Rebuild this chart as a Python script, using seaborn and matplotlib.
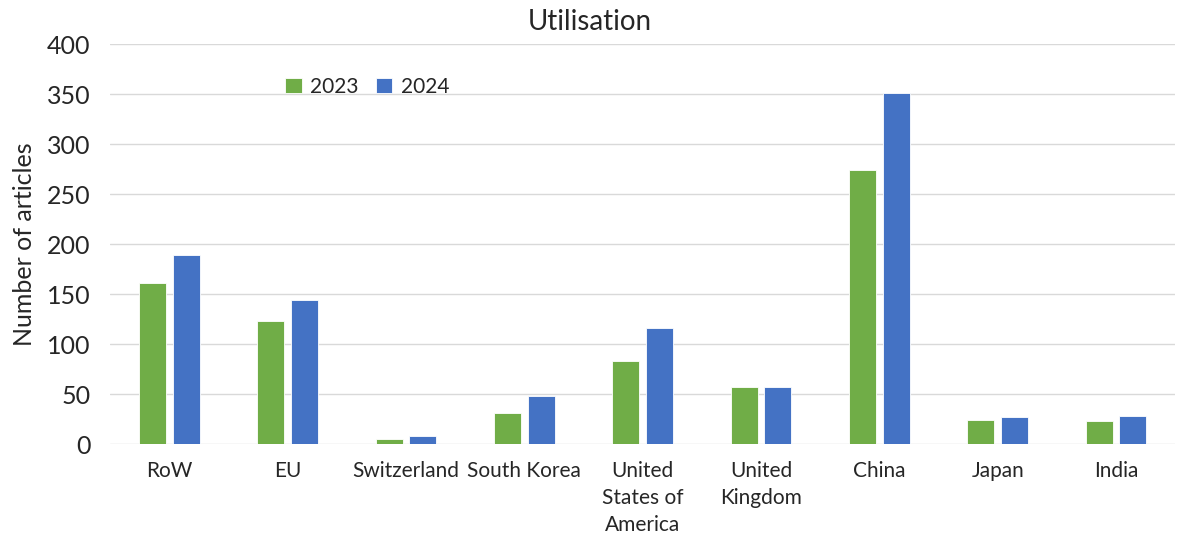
import numpy as np
import pandas as pd
import matplotlib.pyplot as plt
import seaborn as sns

countries = ['RoW', 'EU', 'Switzerland', 'South Korea', 'United\nStates of\nAmerica',
             'United\nKingdom', 'China', 'Japan', 'India']
vals_2023 = [161, 123, 5, 31, 83, 57, 274, 24, 23]
vals_2024 = [189, 144, 8, 48, 116, 57, 351, 27, 28]
years = ['2023', '2024']

df = pd.DataFrame({'Country': countries * 2,
                   'Year': [years[0]] * len(countries) + [years[1]] * len(countries),
                   'Articles': vals_2023 + vals_2024})

sns.set_style('white')
plt.rcParams['font.family'] = ['Lato', 'DejaVu Sans']

fig = plt.figure(figsize=(11.77, 5.44), dpi=100)
ax = fig.add_axes([0.0935, 0.1838, 0.905, 0.7353])

sns.barplot(data=df, x='Country', y='Articles', hue='Year',
            palette=['#70AD47', '#4472C4'], saturation=1, width=0.57, gap=0.2,
            edgecolor='white', linewidth=0.6, ax=ax)

ax.set_ylim(0, 400)
ax.set_yticks(np.arange(0, 401, 50))
ax.yaxis.grid(True, color='#D9D9D9', linewidth=1)
ax.set_axisbelow(True)
for s in ax.spines.values():
    s.set_visible(False)
ax.tick_params(axis='y', labelsize=18, length=0, pad=14)
ax.tick_params(axis='x', labelsize=15, length=0, pad=12)
for lbl in ax.get_xticklabels():
    lbl.set_linespacing(1.45)
ax.set_xlabel('')
ax.set_ylabel('Number of articles', fontsize=18, labelpad=8)

ax.legend(loc='upper left', bbox_to_anchor=(0.147, 0.965), ncol=2, frameon=False,
          fontsize=15, handlelength=0.8, handleheight=0.8, columnspacing=0.8,
          handletextpad=0.4)

fig.text(0.501, 0.96, 'Utilisation', ha='center', va='center', fontsize=20)

fig.savefig('out.png', dpi=100)
